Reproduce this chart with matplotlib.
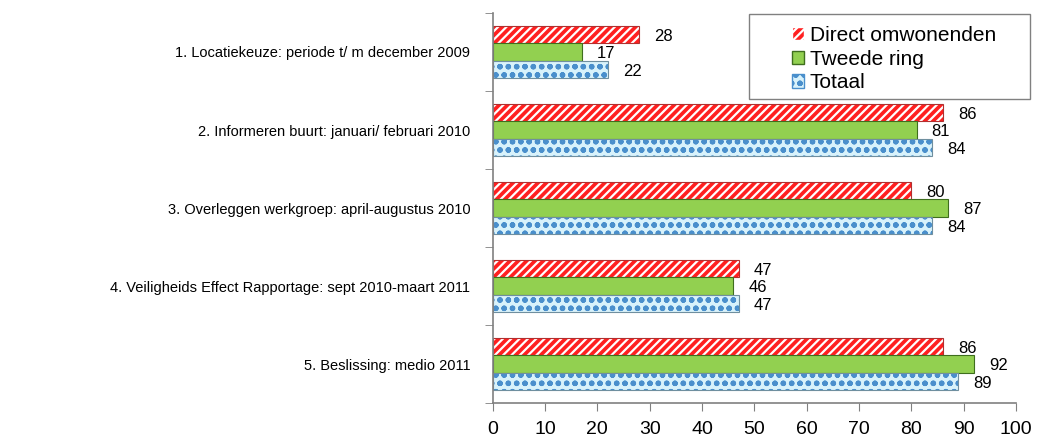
import numpy as np
import matplotlib
matplotlib.use("Agg")
import matplotlib.pyplot as plt
from matplotlib.patches import Patch, Rectangle

plt.rcParams['font.family'] = ['Liberation Sans', 'DejaVu Sans']
plt.rcParams['hatch.linewidth'] = 1.6

categories = [
    "1. Locatiekeuze: periode t/ m december 2009",
    "2. Informeren buurt: januari/ februari 2010",
    "3. Overleggen werkgroep: april-augustus 2010",
    "4. Veiligheids Effect Rapportage: sept 2010-maart 2011",
    "5. Beslissing: medio 2011",
]
direct = [28, 86, 80, 47, 86]
tweede = [17, 81, 87, 46, 92]
totaal = [22, 84, 84, 47, 89]

fig = plt.figure(figsize=(10.39, 4.42), dpi=100)
ax = fig.add_axes([0.4742, 0.0882, 0.5036, 0.8824])

y = np.arange(len(categories))
h = 0.22
off = 0.225

# red hatched (white stripes on red)
ax.barh(y - off, direct, height=h, color='#FF2020', edgecolor='white',
        hatch='////', linewidth=0)
ax.barh(y - off, direct, height=h, fill=False, edgecolor='#B03030', linewidth=0.8)
# green
ax.barh(y, tweede, height=h, color='#92D050', edgecolor='#3F6E1E', linewidth=0.8)
# blue dotted
ax.barh(y + off, totaal, height=h, color='#D8F2FB', edgecolor='#4A8FCC',
        hatch='oo', linewidth=0)
ax.barh(y + off, totaal, height=h, fill=False, edgecolor='#6F8F9F', linewidth=0.8)

for vals, dy in [(direct, -off), (tweede, 0), (totaal, off)]:
    for i, v in enumerate(vals):
        ax.text(v + 2.9, i + dy + 0.02, str(v), va='center', ha='left', fontsize=12)

ax.set_xlim(0, 100)
ax.set_ylim(4.5, -0.5)
ax.set_xticks(range(0, 101, 10))
ax.tick_params(axis='x', labelsize=14, length=6, color='#808080', pad=7)
ax.set_yticks(y)
ax.set_yticklabels(categories, fontsize=10.5)
ax.tick_params(axis='y', length=0, pad=16)
ax.set_yticks(np.arange(-0.5, 5.0, 1.0), minor=True)
ax.tick_params(axis='y', which='minor', length=6, color='#808080')
for s in ['top', 'right']:
    ax.spines[s].set_visible(False)
for s in ['left', 'bottom']:
    ax.spines[s].set_color('#808080')
    ax.spines[s].set_linewidth(1.2)

# legend box
fig.patches.append(Rectangle((749 / 1039, 1 - 99 / 442), 281 / 1039, 85 / 442,
                             transform=fig.transFigure, facecolor='white',
                             edgecolor='#808080', linewidth=1.0, zorder=5))
handles = [
    Patch(facecolor='#FF2020', edgecolor='white', hatch='////', label='Direct omwonenden'),
    Patch(facecolor='#92D050', edgecolor='#3F6E1E', label='Tweede ring'),
    Patch(facecolor='#D8F2FB', edgecolor='#4A8FCC', hatch='oo', label='Totaal'),
]
leg = fig.legend(handles=handles, loc='upper left', bbox_to_anchor=(788 / 1039, 1 - 22 / 442),
                 fontsize=15, frameon=False, handlelength=0.55,
                 handleheight=0.6, handletextpad=0.3, borderpad=0.2, labelspacing=0.22,
                 borderaxespad=0)
leg.set_zorder(6)

fig.savefig('out.png', dpi=100)
